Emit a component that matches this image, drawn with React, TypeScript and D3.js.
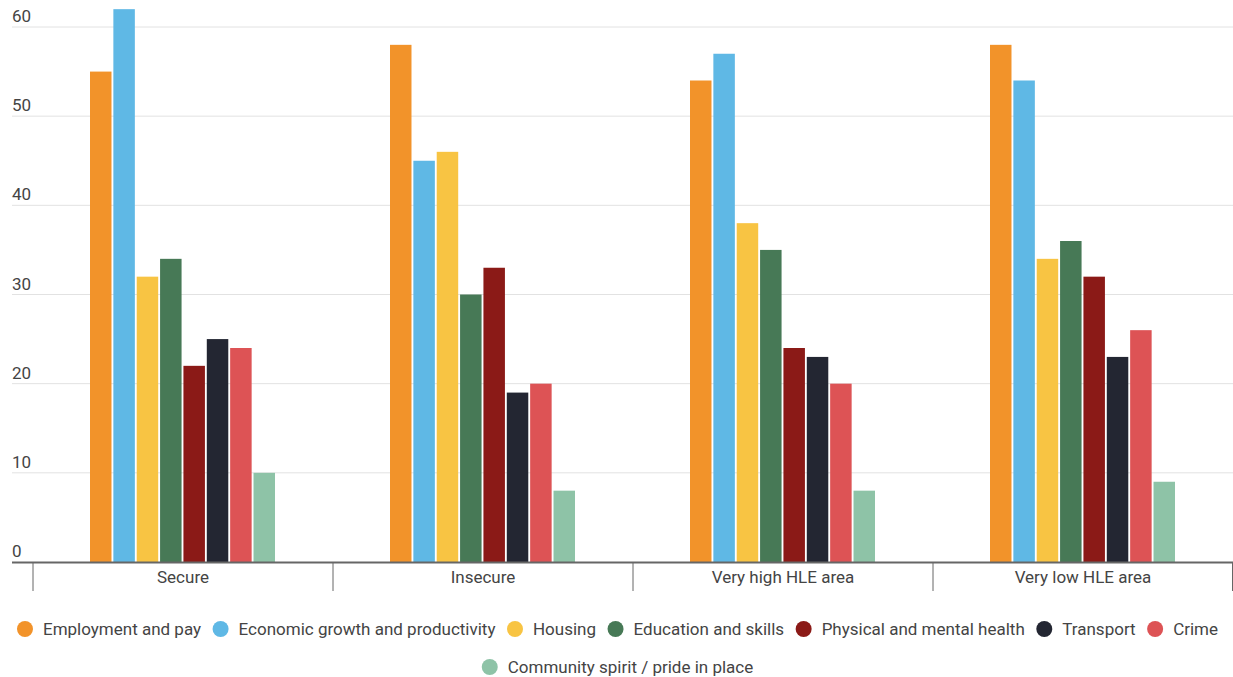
import React, { useEffect, useRef } from "react";
import * as d3 from "d3";

const categories = ["Secure", "Insecure", "Very high HLE area", "Very low HLE area"];
const seriesNames = [
  "Employment and pay",
  "Economic growth and productivity",
  "Housing",
  "Education and skills",
  "Physical and mental health",
  "Transport",
  "Crime",
  "Community spirit / pride in place",
];
const seriesColors = ["#f2932a", "#5fb8e5", "#f8c443", "#477956", "#8b1a17", "#232632", "#dd5355", "#8ec3a7"];
// values[series][category]
const employment = [55, 58, 54, 58];
const economic = [62, 45, 57, 54];
const housing = [32, 46, 38, 34];
const education = [34, 30, 35, 36];
const health = [22, 33, 24, 32];
const transport = [25, 19, 23, 23];
const crime = [24, 20, 20, 26];
const community = [10, 8, 8, 9];
const seriesValues = [employment, economic, housing, education, health, transport, crime, community];
const yTicks = [0, 10, 20, 30, 40, 50, 60];

const W = 1233;
const H = 677;
const FONT = "Roboto, 'Noto Sans', sans-serif";
const FS = 17;

export default function App() {
  const ref = useRef<SVGSVGElement | null>(null);

  useEffect(() => {
    const svg = d3.select(ref.current);
    svg.selectAll("*").remove();

    const left = 33, right = 1233, top = 27, bottom = 562;
    const x0 = d3.scaleBand<string>().domain(categories).range([left, right]).padding(0);
    const x1 = d3.scaleBand<string>().domain(seriesNames).range([57, 242]).paddingInner(0.08).paddingOuter(0);
    const y = d3.scaleLinear().domain([0, 60]).range([bottom, top]);

    // grid
    const g = svg.append("g");
    g.selectAll("line.grid")
      .data(yTicks.filter((t) => t > 0))
      .join("line")
      .attr("x1", 12)
      .attr("x2", W)
      .attr("y1", (d) => y(d))
      .attr("y2", (d) => y(d))
      .attr("stroke", "#e2e2e2")
      .attr("stroke-width", 1);

    g.selectAll("text.ytick")
      .data(yTicks)
      .join("text")
      .attr("x", 12)
      .attr("y", (d) => y(d) - 5)
      .attr("font-family", FONT)
      .attr("font-size", FS)
      .attr("fill", "#444")
      .text((d) => String(d));

    // bars
    categories.forEach((cat, ci) => {
      const gg = svg.append("g").attr("transform", `translate(${x0(cat)},0)`);
      seriesNames.forEach((s, si) => {
        const v = seriesValues[si][ci];
        gg.append("rect")
          .attr("x", x1(s)!)
          .attr("y", y(v))
          .attr("width", x1.bandwidth())
          .attr("height", y(0) - y(v))
          .attr("fill", seriesColors[si]);
      });
    });

    // axis baseline
    svg.append("line")
      .attr("x1", 12).attr("x2", W)
      .attr("y1", bottom + 0.5).attr("y2", bottom + 0.5)
      .attr("stroke", "#666").attr("stroke-width", 2);

    // category separators
    const seps = [...categories.map((c) => x0(c)!), right];
    svg.selectAll("line.sep")
      .data(seps)
      .join("line")
      .attr("x1", (d) => Math.min(d, W - 0.5))
      .attr("x2", (d) => Math.min(d, W - 0.5))
      .attr("y1", bottom)
      .attr("y2", 591)
      .attr("stroke", "#666")
      .attr("stroke-width", 1);

    svg.selectAll("text.cat")
      .data(categories)
      .join("text")
      .attr("x", (d) => x0(d)! + x0.bandwidth() / 2)
      .attr("y", 582.5)
      .attr("text-anchor", "middle")
      .attr("font-family", FONT)
      .attr("font-size", FS)
      .attr("fill", "#444")
      .text((d) => d);

    // legend
    const rows = [seriesNames.slice(0, 7), seriesNames.slice(7)];
    const rowY = [629, 667];
    const r = 8, gapCircleText = 10, gapItem = 11.5;
    rows.forEach((row, ri) => {
      const lg = svg.append("g");
      let cx = 0;
      row.forEach((name) => {
        const si = seriesNames.indexOf(name);
        lg.append("circle")
          .attr("cx", cx + r)
          .attr("cy", rowY[ri])
          .attr("r", r)
          .attr("fill", seriesColors[si]);
        const t = lg.append("text")
          .attr("x", cx + 2 * r + gapCircleText)
          .attr("y", rowY[ri] + 6)
          .attr("font-family", FONT)
          .attr("font-size", FS)
          .attr("fill", "#444")
          .text(name);
        const tw = (t.node() as SVGTextElement).getComputedTextLength();
        cx += 2 * r + gapCircleText + tw + gapItem;
      });
      const total = cx - gapItem;
      lg.attr("transform", `translate(${(W - total) / 2 + 1},0)`);
    });
  }, []);

  return (
    <svg
      ref={ref}
      width={W}
      height={H}
      style={{ position: "absolute", left: 0, top: 0, background: "#fff" }}
    />
  );
}
